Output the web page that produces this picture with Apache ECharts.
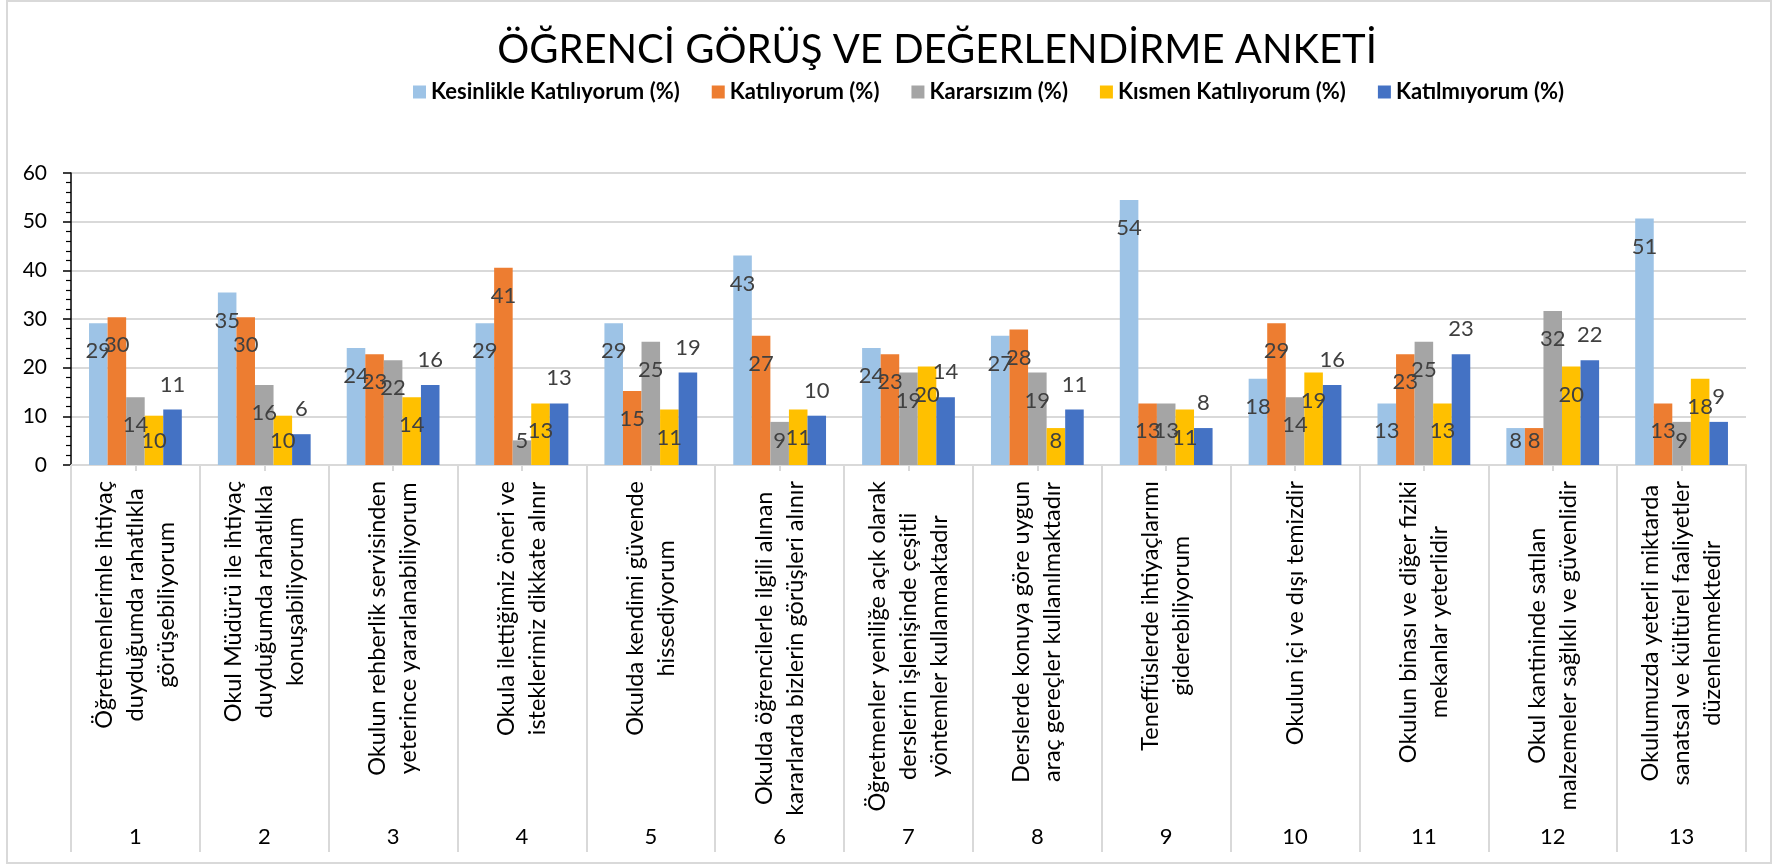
<!DOCTYPE html>
<html>
<head>
<meta charset="utf-8">
<script src="https://cdn.jsdelivr.net/npm/echarts@6/dist/echarts.min.js"></script>
<style>
html,body{margin:0;padding:0;background:#fff;}
#chart{width:1774px;height:865px;}
</style>
</head>
<body>
<div id="chart"></div>
<script>
var titleText = 'ÖĞRENCİ GÖRÜŞ VE DEĞERLENDİRME ANKETİ';
var seriesNames = ['Kesinlikle Katılıyorum (%)', 'Katılıyorum (%)', 'Kararsızım (%)', 'Kısmen Katılıyorum (%)', 'Katılmıyorum (%)'];
var statements = [
  'Öğretmenlerimle ihtiyaç\nduyduğumda rahatlıkla\ngörüşebiliyorum',
  'Okul Müdürü ile ihtiyaç\nduyduğumda rahatlıkla\nkonuşabiliyorum',
  'Okulun rehberlik servisinden\nyeterince yararlanabiliyorum',
  'Okula ilettiğimiz öneri ve\nisteklerimiz dikkate alınır',
  'Okulda kendimi güvende\nhissediyorum',
  'Okulda öğrencilerle ilgili alınan\nkararlarda bizlerin görüşleri alınır',
  'Öğretmenler yeniliğe açık olarak\nderslerin işlenişinde çeşitli\nyöntemler kullanmaktadır',
  'Derslerde konuya göre uygun\naraç gereçler kullanılmaktadır',
  'Teneffüslerde ihtiyaçlarımı\ngiderebiliyorum',
  'Okulun içi ve dışı temizdir',
  'Okulun binası ve diğer fiziki\nmekanlar yeterlidir',
  'Okul kantininde satılan\nmalzemeler sağlıklı ve güvenlidir',
  'Okulumuzda yeterli miktarda\nsanatsal ve kültürel faaliyetler\ndüzenlenmektedir'
];
var itemNumbers = ['1','2','3','4','5','6','7','8','9','10','11','12','13'];
var kesinlikle = [29.11, 35.44, 24.05, 29.11, 29.11, 43.04, 24.05, 26.58, 54.43, 17.72, 12.66, 7.59, 50.63];
var katiliyorum = [30.38, 30.38, 22.78, 40.51, 15.19, 26.58, 22.78, 27.85, 12.66, 29.11, 22.78, 7.59, 12.66];
var kararsizim = [13.92, 16.46, 21.52, 5.06, 25.32, 8.86, 18.99, 18.99, 12.66, 13.92, 25.32, 31.65, 8.86];
var kismen = [10.13, 10.13, 13.92, 12.66, 11.39, 11.39, 20.25, 7.59, 11.39, 18.99, 12.66, 20.25, 17.72];
var katilmiyorum = [11.39, 6.33, 16.46, 12.66, 18.99, 10.13, 13.92, 11.39, 7.59, 16.46, 22.78, 21.52, 8.86];
var yTicks = [0, 10, 20, 30, 40, 50, 60];

var colors = ['#9DC3E6', '#ED7D31', '#A5A5A5', '#FFC000', '#4472C4'];
var FONT = 'Lato';

function insideLayout(p) {
  var r = p.rect;
  return { x: r.x + r.width / 2, y: Math.min(r.y + 28, r.y + r.height - 24), align: 'center', verticalAlign: 'middle' };
}
function makeSeries(name, data, idx) {
  var s = {
    name: name, type: 'bar', data: data, barGap: '0%', barCategoryGap: '28%',
    itemStyle: { color: colors[idx] },
    label: {
      show: true, fontFamily: FONT, fontSize: 22, color: '#404040',
      formatter: function (p) { return Math.round(p.value); }
    }
  };
  if (idx < 4) {
    s.label.position = 'insideTop';
    s.labelLayout = insideLayout;
  } else {
    s.label.position = 'top';
    s.label.distance = 14;
  }
  return s;
}

var chart = echarts.init(document.getElementById('chart'), null, { renderer: 'canvas' });
chart.setOption({
  backgroundColor: '#fff',
  animation: false,
  color: colors,
  title: {
    text: titleText, left: 932, top: 25, textAlign: 'center',
    textStyle: { fontFamily: FONT, fontSize: 40, fontWeight: 'normal', color: '#000' }
  },
  legend: {
    data: seriesNames, left: 408, top: 76, icon: 'rect', itemWidth: 13, itemHeight: 13, itemGap: 32,
    textStyle: { fontFamily: FONT, fontSize: 22, fontWeight: 'bold', color: '#000' }
  },
  graphic: [{
    type: 'rect', shape: { x: 7, y: 1, width: 1764, height: 862 },
    style: { fill: 'none', stroke: '#d9d9d9', lineWidth: 2 }, silent: true
  }],
  grid: { left: 71, right: 28, top: 173, bottom: 400, containLabel: false },
  xAxis: [{
    type: 'category', data: statements, position: 'bottom',
    axisLine: { show: true, lineStyle: { color: '#d9d9d9', width: 2 } },
    axisTick: { show: true, length: 387, lineStyle: { color: '#d9d9d9', width: 2 } },
    axisLabel: {
      interval: 0, rotate: 90, margin: 16, color: '#000', fontFamily: FONT, fontSize: 23.5, lineHeight: 31,
      formatter: function (v) { return v.split('\n').map(function (l) { return '{c|' + l + '}'; }).join('\n'); },
      rich: { c: { align: 'center', fontFamily: FONT, fontSize: 23.5, lineHeight: 31, color: '#000' } }
    }
  }, {
    type: 'category', data: itemNumbers, position: 'bottom',
    axisLine: { show: false },
    axisTick: { show: true, alignWithLabel: true, length: 6, lineStyle: { color: '#d9d9d9', width: 2 } },
    axisLabel: { interval: 0, margin: 361, color: '#000', fontFamily: FONT, fontSize: 22 }
  }],
  yAxis: {
    type: 'value', min: yTicks[0], max: yTicks[yTicks.length - 1], interval: 10,
    axisLine: { show: true, lineStyle: { color: '#000', width: 1.5 } },
    axisTick: { show: true, length: 8, lineStyle: { color: '#000', width: 1.5 } },
    minorTick: { show: true, splitNumber: 5, length: 5, lineStyle: { color: '#000', width: 1.2 } },
    splitLine: { show: true, lineStyle: { color: '#d9d9d9', width: 2 } },
    axisLabel: { margin: 24, color: '#000', fontFamily: FONT, fontSize: 21 }
  },
  series: [
    makeSeries(seriesNames[0], kesinlikle, 0),
    makeSeries(seriesNames[1], katiliyorum, 1),
    makeSeries(seriesNames[2], kararsizim, 2),
    makeSeries(seriesNames[3], kismen, 3),
    makeSeries(seriesNames[4], katilmiyorum, 4)
  ]
});
</script>
</body>
</html>
